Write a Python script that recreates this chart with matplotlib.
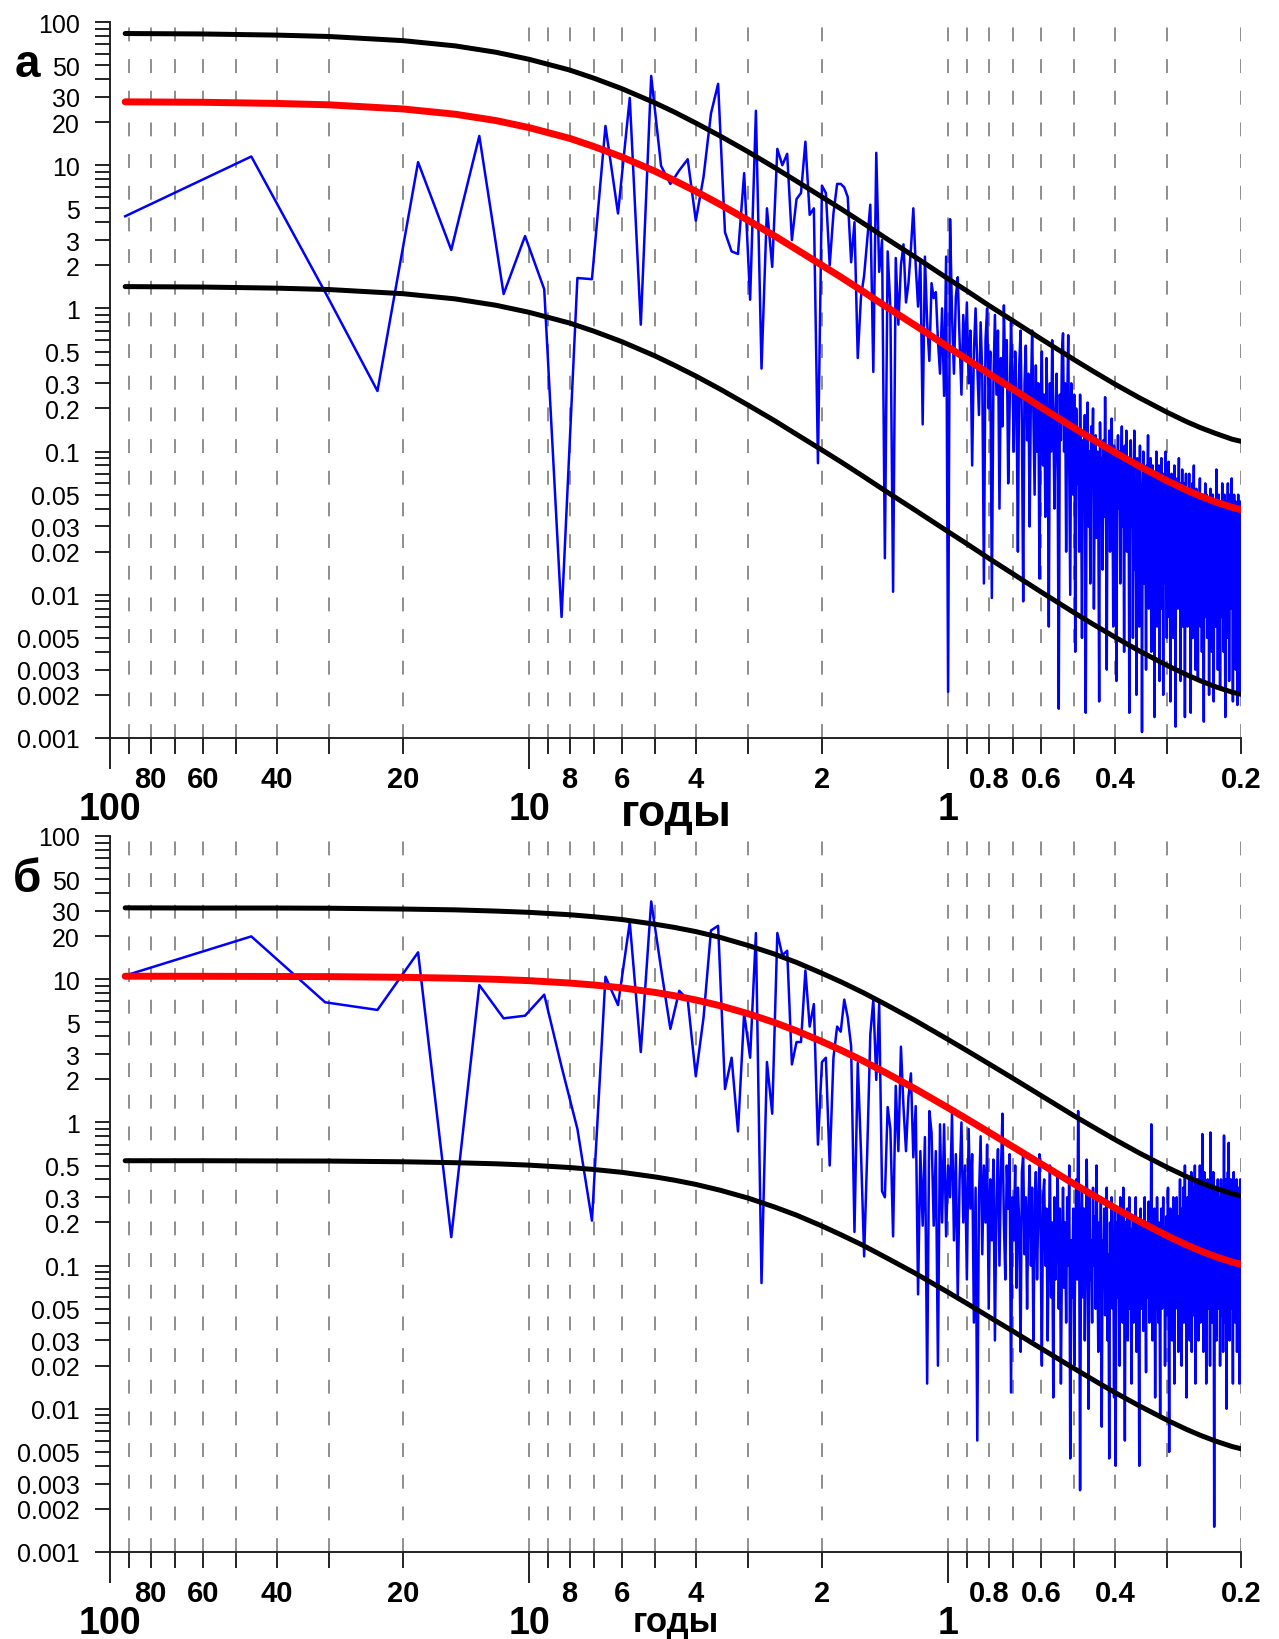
import numpy as np
import matplotlib
matplotlib.use("Agg")
import matplotlib.pyplot as plt

plt.rcParams['font.family'] = ['Liberation Sans', 'DejaVu Sans']
plt.rcParams['lines.scale_dashes'] = False

# ---------------- data ----------------
RECORD_YEARS = 92.0   # harmonic k of the spectrum has period RECORD_YEARS / k

# panel "а": spectrum estimate for harmonics k = 1..460
A_SPECTRUM = [
    4.4, 11.5, 1.3, 0.265, 10.5, 2.56, 16, 1.26, 3.2, 1.36,
    0.007, 1.63, 1.6, 18.8, 4.6, 29.5, 0.77, 42, 9.9, 7.4,
    9.2, 11, 4.1, 8.3, 23, 37, 3.4, 2.5, 2.4, 8.8,
    1.15, 24, 0.38, 5.0, 1.95, 13, 10, 12, 3.0, 5.8,
    6.4, 14.6, 4.5, 5.0, 0.083, 7.2, 6.4, 2.0, 4.6, 7.4,
    7.4, 7.0, 6.0, 2.1, 4.0, 0.45, 1.2, 1.7, 3.0, 5.3,
    0.36, 12.2, 1.8, 3.0, 0.018, 2.5, 1.0, 0.0105, 2.25, 0.77,
    2.0, 2.8, 1.1, 1.5, 2.6, 5.0, 2.0, 1.03, 2.2, 0.155,
    2.3, 0.8, 0.43, 1.5, 1.18, 1.3, 0.6, 0.35, 1.0, 0.245,
    2.3, 0.0021,
    4.2, 0.9, 0.35, 1.2, 1.65, 0.6, 0.25, 0.9, 0.45, 1.1,
    0.3, 0.7, 0.08, 0.5, 1.0, 0.4, 0.18, 0.8,
    0.35, 0.012, 0.6, 1.0, 0.2, 0.5, 0.0095, 0.3, 0.9, 0.25,
    0.7, 0.04, 0.45, 0.15, 1.05, 0.3, 0.6, 0.06, 0.2, 0.8,
    0.35, 0.1, 0.5, 0.25, 0.02, 0.4, 0.7, 0.15, 0.009, 0.3,
    0.55, 0.12, 0.35, 0.03, 0.25, 0.7, 0.18, 0.05, 0.4, 0.1,
    0.3, 0.013, 0.2, 0.5, 0.08, 0.25, 0.035, 0.45, 0.15, 0.006,
    0.3, 0.1, 0.6, 0.2, 0.04, 0.15, 0.35, 0.07, 0.0016, 0.25,
    0.12, 0.5, 0.67, 0.1, 0.3, 0.02, 0.2, 0.65, 0.08, 0.01,
    0.3, 0.15, 0.05, 0.25, 0.004,
    0.2, 0.06, 0.14, 0.02, 0.25, 0.08, 0.005, 0.12, 0.04, 0.18,
    0.0015, 0.09, 0.22, 0.03, 0.1, 0.012, 0.15, 0.06, 0.2, 0.008,
    0.07, 0.13, 0.025, 0.1, 0.045, 0.0018, 0.16, 0.05, 0.09, 0.015,
    0.12, 0.035, 0.24, 0.06, 0.003, 0.1, 0.04, 0.14, 0.02, 0.08,
    0.17, 0.05, 0.006, 0.11, 0.03, 0.09, 0.0025, 0.06, 0.13, 0.04,
    0.1, 0.012, 0.07, 0.15, 0.03, 0.08, 0.004, 0.11, 0.05, 0.14,
    0.02, 0.06, 0.09, 0.0015, 0.07,
    0.12, 0.03, 0.08, 0.005, 0.06, 0.14, 0.015, 0.05, 0.002, 0.09,
    0.035, 0.07, 0.006, 0.11, 0.025, 0.06, 0.0011, 0.05, 0.1, 0.012,
    0.07, 0.03, 0.003, 0.08, 0.04, 0.13, 0.008, 0.06, 0.025, 0.09,
    0.004, 0.05, 0.08, 0.012, 0.04, 0.0014, 0.07, 0.02, 0.1, 0.006,
    0.05, 0.02, 0.08, 0.0025, 0.06, 0.03, 0.09, 0.008, 0.045, 0.002,
    0.07, 0.012, 0.05, 0.1, 0.025, 0.005, 0.06, 0.035, 0.085, 0.007,
    0.05, 0.0018, 0.04, 0.07, 0.012, 0.06, 0.005, 0.045, 0.08, 0.02,
    0.0012, 0.05, 0.025, 0.065, 0.008, 0.04, 0.09, 0.012, 0.05, 0.0025,
    0.06, 0.025, 0.075, 0.006, 0.045, 0.015, 0.06, 0.0014, 0.04, 0.07,
    0.025, 0.05, 0.006, 0.04, 0.015, 0.07, 0.008, 0.035, 0.0015, 0.05,
    0.02, 0.06, 0.005, 0.03, 0.08, 0.012, 0.045, 0.003, 0.025, 0.055,
    0.01, 0.04, 0.0025, 0.05, 0.015, 0.035, 0.065, 0.006, 0.03, 0.045,
    0.004, 0.02, 0.05, 0.009, 0.0013, 0.04, 0.015, 0.06, 0.007, 0.03,
    0.05, 0.005, 0.035, 0.012, 0.045, 0.002, 0.03, 0.01, 0.055, 0.02,
    0.04, 0.004, 0.025, 0.05, 0.012, 0.0018, 0.035, 0.015, 0.045, 0.006,
    0.03, 0.075, 0.015, 0.04, 0.003, 0.025, 0.05, 0.009, 0.035, 0.0022,
    0.02, 0.045, 0.007, 0.03, 0.06, 0.012, 0.04, 0.004, 0.025, 0.05,
    0.01, 0.0014, 0.03, 0.015, 0.045, 0.005, 0.035, 0.06, 0.012, 0.03,
    0.0025, 0.02, 0.05, 0.008, 0.04, 0.015, 0.065, 0.01, 0.03, 0.0018,
    0.035, 0.012, 0.05, 0.005, 0.03, 0.045, 0.003, 0.02, 0.04, 0.009,
    0.0017, 0.03, 0.05, 0.007, 0.035, 0.012, 0.045, 0.002, 0.025, 0.015,
]

# panel "б": spectrum estimate for harmonics k = 1..460
B_SPECTRUM = [
    10.6, 19.9, 6.9, 6.1, 15.4, 0.158, 9.1, 5.33, 5.56, 7.8,
    2.45, 0.9, 0.206, 10.4, 6.6, 25, 3.1, 34.9, 11.9, 4.5,
    8.3, 7.2, 2.1, 5.4, 21.9, 23.6, 1.71, 2.83, 0.865, 5.8,
    2.83, 21, 0.0755, 2.64, 1.15, 21, 14.7, 15.8, 2.54, 3.64,
    3.64, 11.5, 4.67, 6.7, 0.70, 2.64, 2.83, 0.5, 2.83, 4.67,
    4.3, 7.2, 5.4, 3.4, 0.172, 2.6, 0.63, 0.116, 0.63, 4.1,
    7.2, 1.98, 6.7, 0.33, 0.3, 1.28, 0.9, 0.16, 1.8, 0.63,
    3.38, 1.28, 0.63, 1.5, 2.2, 0.57, 1.3, 0.063, 0.63, 0.19,
    0.79, 0.015, 1.2, 0.85, 0.19, 0.63, 0.02, 0.97, 0.2, 0.97,
    0.16, 0.5,
    0.3, 1.15, 0.15, 0.6, 0.06, 0.4, 1.0, 0.2, 0.5, 0.08,
    0.9, 0.25, 0.6, 0.04, 0.35, 0.006, 0.3, 0.8, 0.12, 0.5,
    0.2, 0.7, 0.05, 0.4, 0.15, 0.55, 0.03, 0.3, 0.65, 0.1,
    0.45, 1.15, 0.2, 0.08, 0.5, 0.25, 0.6, 0.013, 0.3, 0.15,
    0.5, 0.07, 0.35, 0.2, 0.025, 0.45, 0.6, 0.12, 0.3, 0.05,
    0.25, 0.5, 0.1, 0.35, 0.03, 0.2, 0.45, 0.08, 0.25, 0.6,
    0.15, 0.02, 0.3,
    0.4, 0.1, 0.25, 0.03, 0.15, 0.5, 0.06, 0.2, 0.012, 0.3,
    0.08, 0.18, 0.45, 0.05, 0.25, 0.015, 0.12, 0.35, 0.07, 0.2,
    0.04, 0.3, 0.1, 0.5, 0.0045, 0.15, 0.06, 0.25, 0.02, 0.12,
    0.4, 0.08, 1.2, 0.2, 0.0027, 0.15, 0.35, 0.06, 0.25, 0.03,
    0.12, 0.55, 0.2, 0.01, 0.3, 0.08, 0.15, 0.04, 0.35, 0.1,
    0.22, 0.05, 0.5, 0.12, 0.025, 0.2, 0.06, 0.3, 0.0075, 0.15,
    0.1, 0.25, 0.045, 0.18, 0.35, 0.03, 0.12, 0.0045, 0.2, 0.08,
    0.3, 0.05, 0.15, 0.012, 0.25, 0.004,
    0.2, 0.06, 0.25, 0.1, 0.02, 0.3, 0.08, 0.15, 0.04, 0.35,
    0.1, 0.006, 0.2, 0.07, 0.25, 0.03, 0.12, 0.3, 0.05, 0.18,
    0.015, 0.1, 0.22, 0.04, 0.15, 0.08, 0.3, 0.025, 0.12, 0.2,
    0.06, 0.004, 0.15, 0.25, 0.05, 0.1, 0.2, 0.035, 0.14, 0.3,
    0.08, 0.018, 0.2, 0.06, 0.12, 0.28, 0.04, 0.15, 0.09, 0.97,
    0.1, 0.03, 0.2, 0.07, 0.25, 0.012, 0.15, 0.05, 0.3, 0.1,
    0.04, 0.2, 0.08, 0.009, 0.15, 0.25, 0.05, 0.12, 0.3, 0.06,
    0.18, 0.02, 0.1, 0.22, 0.045, 0.15, 0.35, 0.07, 0.005, 0.12,
    0.25, 0.06, 0.18, 0.03, 0.1, 0.3, 0.08, 0.015, 0.2, 0.05,
    0.25,
    0.3, 0.06, 0.15, 0.025, 0.22, 0.1, 0.4, 0.05, 0.12, 0.02,
    0.25, 0.08, 0.35, 0.04, 0.15, 0.5, 0.07, 0.2, 0.012, 0.1,
    0.3, 0.05, 0.18, 0.4, 0.03, 0.15, 0.09, 0.45, 0.025, 0.2,
    0.08, 0.35, 0.045, 0.18, 0.5, 0.015, 0.12, 0.25, 0.06, 0.4,
    0.15, 0.03, 0.22, 0.09, 0.5, 0.04, 0.18, 0.35, 0.07, 0.83,
    0.12, 0.025, 0.2, 0.45, 0.06, 0.15, 0.3, 0.015, 0.18, 0.09,
    0.4, 0.05, 0.22, 0.1, 0.35, 0.02, 0.85, 0.15, 0.07, 0.25,
    0.04, 0.18, 0.45, 0.09, 0.0015, 0.22, 0.06, 0.35, 0.1, 0.03,
    0.25, 0.12, 0.4, 0.05, 0.18, 0.08, 0.3, 0.02, 0.15, 0.4,
    0.045, 0.2, 0.1, 0.35, 0.025, 0.18, 0.81, 0.07, 0.25, 0.04,
    0.15, 0.4, 0.01, 0.22, 0.09, 0.45, 0.06, 0.72, 0.15, 0.03,
    0.25, 0.1, 0.4, 0.05, 0.18, 0.35, 0.08, 0.015, 0.22, 0.45,
    0.06, 0.15, 0.3, 0.04, 0.22, 0.09, 0.4, 0.025, 0.18, 0.07,
    0.35, 0.05, 0.2, 0.015, 0.15, 0.4, 0.03, 0.25,
]

# smooth curves (background fit and confidence bounds), read at these periods
CURVE_PERIODS = [92, 60, 40, 30, 20, 15, 12, 10, 8, 7, 6, 5, 4.5, 4, 3.5, 3,
                 2.6, 2.3, 2, 1.8, 1.6, 1.4, 1.2, 1.0, 0.9, 0.8, 0.7, 0.6,
                 0.5, 0.45, 0.4, 0.35, 0.3, 0.27, 0.25, 0.23, 0.21, 0.2]

A_FIT = [27.7, 27.5, 27.0, 26.4, 24.7, 22.7, 20.5, 18.3, 15.4, 13.5, 11.4, 9.06,
         7.82, 6.57, 5.32, 4.12, 3.22, 2.58, 2.00, 1.65, 1.32, 1.02, 0.763, 0.538,
         0.440, 0.351, 0.273, 0.204, 0.146, 0.121, 0.0988, 0.0792, 0.0625, 0.0539,
         0.0489, 0.0445, 0.0408, 0.0393]
A_UPPER = [83.1, 82.5, 81.0, 79.2, 74.1, 68.1, 61.5, 54.9, 46.2, 40.5, 34.2, 27.2,
           23.5, 19.7, 16.0, 12.4, 9.66, 7.74, 6.00, 4.95, 3.96, 3.06, 2.29, 1.61,
           1.32, 1.05, 0.819, 0.612, 0.438, 0.363, 0.296, 0.238, 0.188, 0.162,
           0.147, 0.134, 0.122, 0.118]
A_LOWER = [1.42, 1.41, 1.385, 1.354, 1.267, 1.165, 1.052, 0.939, 0.790, 0.693, 0.585,
           0.465, 0.401, 0.337, 0.273, 0.211, 0.165, 0.132, 0.1026, 0.0846, 0.0677,
           0.0523, 0.0391, 0.0276, 0.0226, 0.0180, 0.0140, 0.01047, 0.00749, 0.00621,
           0.00507, 0.00406, 0.00321, 0.00277, 0.00251, 0.00228, 0.00209, 0.00202]

B_FIT = [10.49, 10.48, 10.45, 10.42, 10.31, 10.16, 9.98, 9.77, 9.40, 9.11, 8.70, 8.08,
         7.67, 7.16, 6.53, 5.74, 4.99, 4.36, 3.67, 3.19, 2.70, 2.20, 1.72, 1.264,
         1.053, 0.855, 0.675, 0.513, 0.371, 0.309, 0.253, 0.204, 0.1615, 0.1396,
         0.1268, 0.1155, 0.1059, 0.1022]
B_UPPER = [31.5, 31.4, 31.4, 31.3, 30.9, 30.5, 29.9, 29.3, 28.2, 27.3, 26.1, 24.2,
           23.0, 21.5, 19.6, 17.2, 15.0, 13.1, 11.0, 9.57, 8.10, 6.60, 5.16, 3.79,
           3.16, 2.57, 2.03, 1.54, 1.11, 0.927, 0.759, 0.612, 0.485, 0.419, 0.380,
           0.347, 0.318, 0.307]
B_LOWER = [0.540, 0.540, 0.538, 0.537, 0.531, 0.523, 0.514, 0.503, 0.484, 0.469, 0.448,
           0.416, 0.395, 0.369, 0.336, 0.296, 0.257, 0.225, 0.189, 0.164, 0.139, 0.113,
           0.0886, 0.0651, 0.0542, 0.0440, 0.0348, 0.0264, 0.0191, 0.0159, 0.0130,
           0.0105, 0.00832, 0.00719, 0.00653, 0.00595, 0.00545, 0.00526]

# axis ticks and labels
X_MAJOR = [100, 10, 1]
X_MAJOR_LABELS = ['100', '10', '1']
X_MINOR = [90, 80, 70, 60, 50, 40, 30, 20, 9, 8, 7, 6, 5, 4, 3, 2,
           0.9, 0.8, 0.7, 0.6, 0.5, 0.4, 0.3, 0.2]
X_MINOR_LABELS = ['', '80', '', '60', '', '40', '', '20', '', '8', '', '6', '', '4', '', '2',
                  '', '0.8', '', '0.6', '', '0.4', '', '0.2']
Y_TICKS = [0.001, 0.002, 0.003, 0.004, 0.005, 0.006, 0.007, 0.008, 0.009,
           0.01, 0.02, 0.03, 0.04, 0.05, 0.06, 0.07, 0.08, 0.09,
           0.1, 0.2, 0.3, 0.4, 0.5, 0.6, 0.7, 0.8, 0.9,
           1, 2, 3, 4, 5, 6, 7, 8, 9,
           10, 20, 30, 40, 50, 60, 70, 80, 90, 100]
Y_LABELS = ['0.001', '0.002', '0.003', '', '0.005', '', '', '', '',
            '0.01', '0.02', '0.03', '', '0.05', '', '', '', '',
            '0.1', '0.2', '0.3', '', '0.5', '', '', '', '',
            '1', '2', '3', '', '5', '', '', '', '',
            '10', '20', '30', '', '50', '', '', '', '', '100']
X_TITLE = 'годы'
PANEL_LETTERS = ['а', 'б']

# ---------------- figure ----------------
W, H = 1279, 1640
fig = plt.figure(figsize=(W / 100, H / 100), dpi=100)
fig.patch.set_facecolor('white')

AX_COLOR = '#222222'


def draw_panel(ax, spectrum, fit, upper, lower):
    periods = RECORD_YEARS / np.arange(1, len(spectrum) + 1)
    ax.set_xscale('log')
    ax.set_yscale('log')
    ax.set_xlim(100, 0.2)
    ax.set_ylim(0.001, 100)

    grid_x = X_MAJOR[1:] + X_MINOR
    ax.vlines(grid_x, 0.001, 100, colors='#707070', linewidth=1.1,
              linestyles=[(0, (10, 12.8))], zorder=1)

    ax.plot(periods, spectrum, color='#0000ff', lw=1.8, zorder=3)
    ax.plot(CURVE_PERIODS, fit, color='#ff0000', lw=5.0,
            solid_capstyle='round', solid_joinstyle='round', zorder=4)
    for c in (upper, lower):
        ax.plot(CURVE_PERIODS, c, color='black', lw=3.6,
                solid_capstyle='round', solid_joinstyle='round', zorder=5)

    for s in ('top', 'right'):
        ax.spines[s].set_visible(False)
    for s in ('left', 'bottom'):
        ax.spines[s].set_color(AX_COLOR)
        ax.spines[s].set_linewidth(1.4)

    ax.set_xticks(X_MAJOR, labels=X_MAJOR_LABELS, fontsize=27, fontweight='bold')
    ax.set_xticks(X_MINOR, labels=X_MINOR_LABELS, minor=True,
                  fontsize=21, fontweight='bold')
    ax.tick_params(axis='x', which='major', direction='out', length=22.3,
                   width=1.4, pad=16, color=AX_COLOR)
    ax.tick_params(axis='x', which='minor', direction='out', length=11.5,
                   width=1.4, pad=7.8, color=AX_COLOR)

    ax.set_yticks(Y_TICKS, labels=Y_LABELS, fontsize=18)
    ax.set_yticks([], minor=True)
    ax.tick_params(axis='y', which='major', direction='out', length=10.8,
                   width=1.4, pad=11, color=AX_COLOR)


left = 110 / W
width = (1241 - 110) / W
height = (739 - 23) / H
ax_a = fig.add_axes([left, 1 - 739 / H, width, height])
ax_b = fig.add_axes([left, 1 - 1553 / H, width, height])

draw_panel(ax_a, A_SPECTRUM, A_FIT, A_UPPER, A_LOWER)
draw_panel(ax_b, B_SPECTRUM, B_FIT, B_UPPER, B_LOWER)

# axis title "годы" under each panel (baseline placed just below the minor labels)
fig.text(676 / W, 1 - 826 / H, X_TITLE, ha='center', va='baseline',
         fontsize=32, fontweight='bold')
fig.text(676 / W, 1 - 1632.5 / H, X_TITLE, ha='center', va='baseline',
         fontsize=25, fontweight='bold')
fig.text(27 / W, 1 - 77 / H, PANEL_LETTERS[0], ha='center', va='baseline',
         fontsize=33, fontweight='bold')
fig.text(27 / W, 1 - 892 / H, PANEL_LETTERS[1], ha='center', va='baseline',
         fontsize=33, fontweight='bold')

fig.savefig('out.png', dpi=100, facecolor='white')
